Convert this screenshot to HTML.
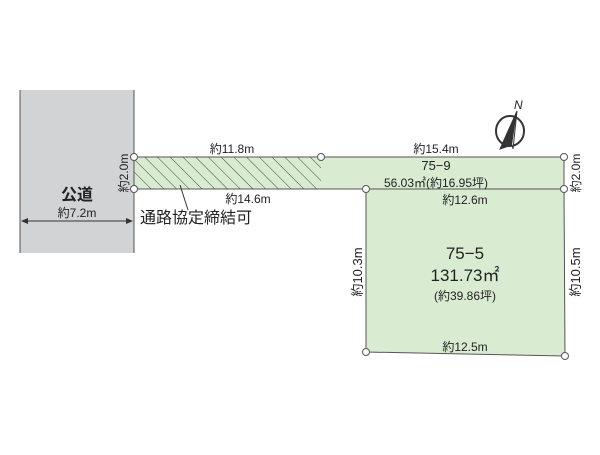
<!DOCTYPE html>
<html><head><meta charset="utf-8"><style>
body{margin:0;background:#fff;width:600px;height:450px;overflow:hidden}
text{font-family:"Liberation Sans","Noto Sans CJK JP",sans-serif;fill:#222}
</style></head><body>
<svg width="600" height="450" viewBox="0 0 600 450">
<defs>
<pattern id="h" width="9" height="9" patternUnits="userSpaceOnUse" patternTransform="rotate(-45)">
<line x1="0" y1="0" x2="0" y2="9" stroke="#333" stroke-width="0.9"/></pattern>
</defs>
<rect x="20" y="90" width="114" height="163" fill="#d2d3d5"/>
<line x1="20" y1="90" x2="20" y2="253" stroke="#555"/>
<line x1="134" y1="90" x2="134" y2="253" stroke="#555"/>
<polygon points="134,157 564,157 564,189 134,189" fill="#d9ecd1" stroke="#555"/>
<rect x="134" y="157" width="187" height="32" fill="url(#h)"/>
<polygon points="366,189 564,189 565,356 366,352" fill="#d9ecd1" stroke="#555"/>
<line x1="22" y1="221" x2="132" y2="221" stroke="#333"/>
<path d="M21,221 l7,-3 v6z M133,221 l-7,-3 v6z" fill="#333"/>
<line x1="180" y1="185" x2="188" y2="210" stroke="#333"/>
<g fill="#fff" stroke="#555">
<circle cx="134" cy="157" r="3.5"/><circle cx="134" cy="189" r="3.5"/><circle cx="321" cy="157" r="3.5"/>
<circle cx="564" cy="157" r="3.5"/><circle cx="564" cy="189" r="3.5"/><circle cx="366" cy="189" r="3.5"/>
<circle cx="366" cy="352" r="3.5"/><circle cx="565" cy="356" r="3.5"/></g>
<g transform="translate(510,131)">
<ellipse rx="14" ry="15" fill="none" stroke="#333" stroke-width="2"/>
<path d="M7,-20 L-10,18 L2,14 L3,18 z" fill="#fff" stroke="#333"/>
<path d="M7,-20 L-10,18 L2,14 z" fill="#333"/>
<text x="4" y="-22" font-size="12" font-style="italic" font-family="Liberation Serif">N</text></g>
<text x="77" y="200" font-size="16" font-weight="bold" text-anchor="middle">公道</text>
<text x="77" y="217" font-size="12" text-anchor="middle">約7.2m</text>
<text x="232" y="153" font-size="12" text-anchor="middle">約11.8m</text>
<text x="248" y="203" font-size="12" text-anchor="middle">約14.6m</text>
<text x="140" y="223" font-size="16">通路協定締結可</text>
<text x="436" y="153" font-size="12" text-anchor="middle">約15.4m</text>
<text x="436" y="170" font-size="13" text-anchor="middle">75−9</text>
<text x="436" y="187" font-size="12" text-anchor="middle">56.03㎡(約16.95坪)</text>
<text x="465" y="204" font-size="12" text-anchor="middle">約12.6m</text>
<text x="465" y="259" font-size="17" text-anchor="middle">75−5</text>
<text x="465" y="281" font-size="17" text-anchor="middle">131.73㎡</text>
<text x="465" y="300" font-size="12" text-anchor="middle">(約39.86坪)</text>
<text x="465" y="351" font-size="12" text-anchor="middle">約12.5m</text>
<text transform="translate(128,173) rotate(-90)" font-size="12" text-anchor="middle">約2.0m</text>
<text transform="translate(580,173) rotate(-90)" font-size="12" text-anchor="middle">約2.0m</text>
<text transform="translate(362,272) rotate(-90)" font-size="13" text-anchor="middle">約10.3m</text>
<text transform="translate(580,272) rotate(-90)" font-size="13" text-anchor="middle">約10.5m</text>
</svg>
</body></html>
